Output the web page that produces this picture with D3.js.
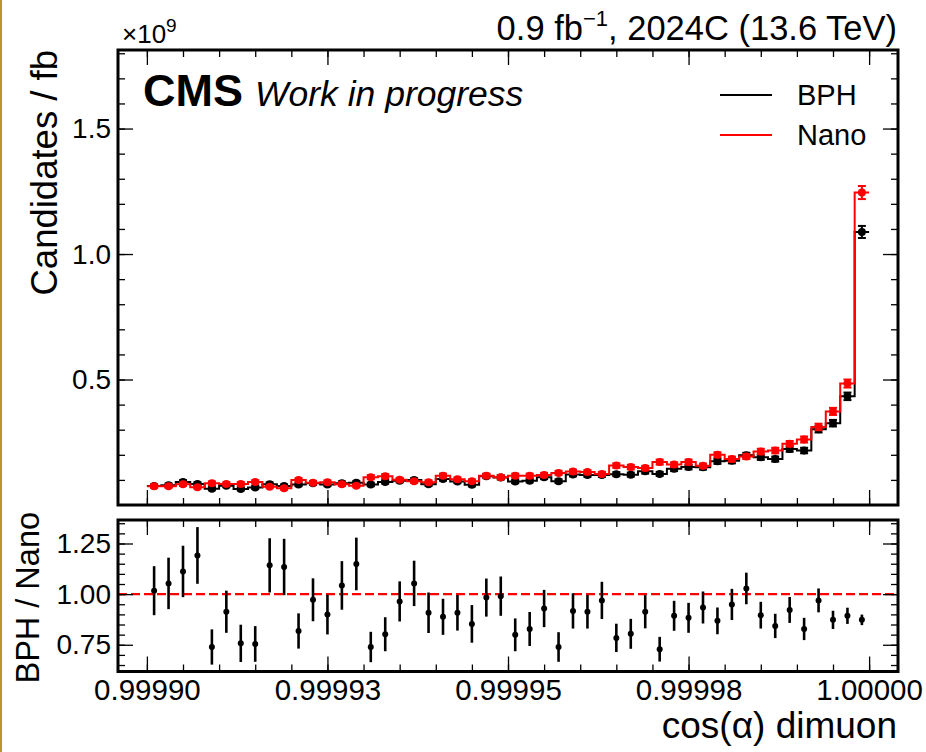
<!DOCTYPE html>
<html>
<head>
<meta charset="utf-8">
<script src="https://cdn.jsdelivr.net/npm/d3@7"></script>
<style>
  body { margin: 0; background: #fff; }
  svg { display: block; font-family: "Liberation Sans", Arial, Helvetica, sans-serif; }
</style>
</head>
<body>
<div id="container"></div>
<script>
// histogram: 50 bins between 0.9999 and 1.0 (cos alpha)
var binLo = 0.9999, binHi = 1.0, nBins = 50;

// Candidates / fb  (x 1e9)
var nano = [0.075, 0.075, 0.083, 0.071, 0.087, 0.084, 0.084, 0.092, 0.073, 0.067,
            0.100, 0.089, 0.091, 0.083, 0.077, 0.111, 0.115, 0.101, 0.095, 0.091,
            0.117, 0.103, 0.095, 0.117, 0.111, 0.117, 0.117, 0.120, 0.128, 0.133,
            0.131, 0.124, 0.157, 0.151, 0.147, 0.171, 0.161, 0.171, 0.156, 0.200,
            0.183, 0.193, 0.213, 0.217, 0.244, 0.261, 0.311, 0.373, 0.484, 1.245];
var nanoErr = [0.006, 0.006, 0.007, 0.006, 0.007, 0.007, 0.007, 0.007, 0.006, 0.006,
               0.007, 0.007, 0.007, 0.007, 0.006, 0.008, 0.008, 0.007, 0.007, 0.007,
               0.008, 0.007, 0.007, 0.008, 0.008, 0.008, 0.008, 0.008, 0.008, 0.008,
               0.008, 0.008, 0.009, 0.009, 0.009, 0.010, 0.009, 0.010, 0.009, 0.010,
               0.010, 0.010, 0.011, 0.011, 0.011, 0.012, 0.013, 0.014, 0.016, 0.026];
var bph = [0.076, 0.079, 0.092, 0.084, 0.065, 0.077, 0.064, 0.070, 0.083, 0.076,
           0.082, 0.087, 0.082, 0.087, 0.089, 0.082, 0.092, 0.097, 0.100, 0.083,
           0.104, 0.094, 0.081, 0.115, 0.110, 0.094, 0.097, 0.111, 0.095, 0.122,
           0.120, 0.120, 0.123, 0.121, 0.134, 0.124, 0.144, 0.151, 0.150, 0.174,
           0.176, 0.198, 0.190, 0.183, 0.223, 0.217, 0.302, 0.326, 0.433, 1.088];
var bphErr = [0.006, 0.007, 0.007, 0.007, 0.006, 0.006, 0.006, 0.006, 0.007, 0.006,
              0.007, 0.007, 0.007, 0.007, 0.007, 0.007, 0.007, 0.007, 0.007, 0.007,
              0.007, 0.007, 0.007, 0.008, 0.008, 0.007, 0.007, 0.008, 0.007, 0.008,
              0.008, 0.008, 0.008, 0.008, 0.009, 0.008, 0.009, 0.009, 0.009, 0.010,
              0.010, 0.010, 0.010, 0.010, 0.011, 0.011, 0.013, 0.013, 0.015, 0.024];

// BPH / Nano
var ratio = [1.017, 1.053, 1.112, 1.191, 0.739, 0.913, 0.757, 0.754, 1.142, 1.134,
             0.818, 0.972, 0.899, 1.043, 1.149, 0.739, 0.802, 0.964, 1.053, 0.908,
             0.888, 0.908, 0.853, 0.983, 0.990, 0.799, 0.828, 0.929, 0.739, 0.917,
             0.913, 0.969, 0.784, 0.804, 0.913, 0.728, 0.893, 0.883, 0.934, 0.868,
             0.949, 1.028, 0.896, 0.843, 0.922, 0.828, 0.969, 0.873, 0.893, 0.873];
var ratioErr = [0.121, 0.127, 0.127, 0.140, 0.087, 0.104, 0.092, 0.088, 0.134, 0.139,
                0.087, 0.106, 0.098, 0.120, 0.130, 0.075, 0.084, 0.099, 0.112, 0.100,
                0.089, 0.088, 0.093, 0.094, 0.097, 0.081, 0.084, 0.092, 0.073, 0.087,
                0.083, 0.092, 0.070, 0.074, 0.082, 0.061, 0.074, 0.074, 0.079, 0.066,
                0.077, 0.078, 0.066, 0.060, 0.064, 0.055, 0.059, 0.045, 0.040, 0.026];

// ticks
var xMajor = [0.9999, 0.999925, 0.99995, 0.999975, 1.0];
var xLabels = ["0.99990", "0.99993", "0.99995", "0.99998", "1.00000"];
var yMajor = [0.5, 1.0, 1.5];
var yLabels = ["0.5", "1.0", "1.5"];
var rMajor = [0.75, 1.0, 1.25];
var rLabels = ["0.75", "1.00", "1.25"];

var W = 926, H = 752;
var left = 118, right = 898;
var top1 = 50, bot1 = 505;
var top2 = 520, bot2 = 671.5;

var binW = (binHi - binLo) / nBins;
var edges = d3.range(nBins + 1).map(function (i) { return binLo + i * binW; });
var centers = d3.range(nBins).map(function (i) { return binLo + (i + 0.5) * binW; });

var x = d3.scaleLinear().domain([0.999896, 1.000004]).range([left, right]);
var y = d3.scaleLinear().domain([0, 1.813]).range([bot1, top1]);
var yr = d3.scaleLinear().domain([0.618, 1.366]).range([bot2, top2]);

var xMinor = d3.range(0.999895, 1.000005, 0.000005).filter(function (v) {
    return v > 0.999896 && v < 1.000004; });
var yMinor = d3.range(0.1, 1.81, 0.1);
var rMinor = d3.range(0.65, 1.37, 0.05);

var svg = d3.select("#container").append("svg")
    .attr("width", W).attr("height", H);

svg.append("rect").attr("width", W).attr("height", H).attr("fill", "#fff");
svg.append("rect").attr("x", 0).attr("y", 0).attr("width", 2).attr("height", H)
    .attr("fill", "#b8962e");

function styleAxis(g, size) {
    g.select(".domain").remove();
    g.selectAll("line").attr("stroke", "#000").attr("stroke-width", 1.3);
    g.selectAll("text").attr("font-size", size).attr("fill", "#000")
        .attr("font-family", "Liberation Sans, Arial, sans-serif");
}

// draw inward ticks on all four sides of a panel
function frameTicks(yScale, yT, yM, yL, t, b, showX) {
    var lab = function (arr, labs) { return function (d) { var i = arr.indexOf(d); return i >= 0 ? labs[i] : ""; }; };
    // minor
    svg.append("g").attr("transform", "translate(0," + b + ")")
        .call(d3.axisBottom(x).tickValues(xMinor).tickSize(-7).tickFormat(""))
        .call(styleAxis, 0);
    svg.append("g").attr("transform", "translate(0," + t + ")")
        .call(d3.axisTop(x).tickValues(xMinor).tickSize(-7).tickFormat(""))
        .call(styleAxis, 0);
    svg.append("g").attr("transform", "translate(" + left + ",0)")
        .call(d3.axisLeft(yScale).tickValues(yM).tickSize(-7).tickFormat(""))
        .call(styleAxis, 0);
    svg.append("g").attr("transform", "translate(" + right + ",0)")
        .call(d3.axisRight(yScale).tickValues(yM).tickSize(-7).tickFormat(""))
        .call(styleAxis, 0);
    // major
    svg.append("g").attr("transform", "translate(0," + b + ")")
        .call(d3.axisBottom(x).tickValues(xMajor).tickSize(-15).tickPadding(8)
            .tickFormat(showX ? lab(xMajor, xLabels) : ""))
        .call(styleAxis, 29.5);
    svg.append("g").attr("transform", "translate(0," + t + ")")
        .call(d3.axisTop(x).tickValues(xMajor).tickSize(-15).tickFormat(""))
        .call(styleAxis, 0);
    svg.append("g").attr("transform", "translate(" + left + ",0)")
        .call(d3.axisLeft(yScale).tickValues(yT).tickSize(-15).tickPadding(7)
            .tickFormat(lab(yT, yL)))
        .call(styleAxis, 28);
    svg.append("g").attr("transform", "translate(" + right + ",0)")
        .call(d3.axisRight(yScale).tickValues(yT).tickSize(-15).tickFormat(""))
        .call(styleAxis, 0);
}

// ---------- top panel ----------
function stepLine(vals) {
    var pts = edges.map(function (e, i) { return [e, vals[Math.min(i, nBins - 1)]]; });
    return d3.line().curve(d3.curveStepAfter)
        .x(function (d) { return x(d[0]); })
        .y(function (d) { return y(d[1]); })(pts);
}

function drawSeries(vals, errs, color) {
    svg.append("path").attr("d", stepLine(vals))
        .attr("fill", "none").attr("stroke", color).attr("stroke-width", 2);
    var g = svg.append("g");
    g.selectAll("line.eb").data(vals).enter().append("line")
        .attr("x1", function (d, i) { return x(centers[i]); })
        .attr("x2", function (d, i) { return x(centers[i]); })
        .attr("y1", function (d, i) { return y(d - errs[i]); })
        .attr("y2", function (d, i) { return y(d + errs[i]); })
        .attr("stroke", color).attr("stroke-width", 2);
    [1, -1].forEach(function (s) {
        g.selectAll("line.cap" + s).data(vals).enter().append("line")
            .attr("x1", function (d, i) { return x(centers[i]) - 4; })
            .attr("x2", function (d, i) { return x(centers[i]) + 4; })
            .attr("y1", function (d, i) { return y(d + s * errs[i]); })
            .attr("y2", function (d, i) { return y(d + s * errs[i]); })
            .attr("stroke", color).attr("stroke-width", 2);
    });
    g.selectAll("circle").data(vals).enter().append("circle")
        .attr("cx", function (d, i) { return x(centers[i]); })
        .attr("cy", function (d) { return y(d); })
        .attr("r", 4).attr("fill", color);
}

drawSeries(bph, bphErr, "#000");
drawSeries(nano, nanoErr, "#ff0000");

frameTicks(y, yMajor, yMinor, yLabels, top1, bot1, false);
svg.append("rect").attr("x", left).attr("y", top1)
    .attr("width", right - left).attr("height", bot1 - top1)
    .attr("fill", "none").attr("stroke", "#000").attr("stroke-width", 3);

// ---------- ratio panel ----------
svg.append("line")
    .attr("x1", left).attr("x2", right)
    .attr("y1", yr(1)).attr("y2", yr(1))
    .attr("stroke", "#ff0000").attr("stroke-width", 2.2)
    .attr("stroke-dasharray", "9,4");

var rg = svg.append("g");
rg.selectAll("line").data(ratio).enter().append("line")
    .attr("x1", function (d, i) { return x(centers[i]); })
    .attr("x2", function (d, i) { return x(centers[i]); })
    .attr("y1", function (d, i) { return yr(d - ratioErr[i]); })
    .attr("y2", function (d, i) { return yr(d + ratioErr[i]); })
    .attr("stroke", "#000").attr("stroke-width", 2.6);
rg.selectAll("circle").data(ratio).enter().append("circle")
    .attr("cx", function (d, i) { return x(centers[i]); })
    .attr("cy", function (d) { return yr(d); })
    .attr("r", 3).attr("fill", "#000");

frameTicks(yr, rMajor, rMinor, rLabels, top2, bot2, true);
svg.append("rect").attr("x", left).attr("y", top2)
    .attr("width", right - left).attr("height", bot2 - top2)
    .attr("fill", "none").attr("stroke", "#000").attr("stroke-width", 3);

// ---------- texts ----------
var title = svg.append("text").attr("x", 897).attr("y", 40)
    .attr("text-anchor", "end").attr("font-size", 34.5);
title.append("tspan").text("0.9 fb");
title.append("tspan").attr("font-size", 22).attr("dy", -14).text("\u22121");
title.append("tspan").attr("dy", 14).text(", 2024C (13.6 TeV)");

var expo = svg.append("text").attr("x", 122).attr("y", 43).attr("font-size", 26);
expo.append("tspan").text("\u00d710");
expo.append("tspan").attr("font-size", 19).attr("dy", -11).text("9");

svg.append("text").attr("x", 143).attr("y", 106)
    .attr("font-size", 45).attr("font-weight", "bold").text("CMS");
svg.append("text").attr("x", 255).attr("y", 106)
    .attr("font-size", 35.5).attr("font-style", "italic").text("Work in progress");

var legend = [["BPH", "#000"], ["Nano", "#ff0000"]];
legend.forEach(function (l, i) {
    var ly = 95 + i * 40;
    svg.append("line").attr("x1", 720).attr("x2", 772).attr("y1", ly).attr("y2", ly)
        .attr("stroke", l[1]).attr("stroke-width", 2);
    svg.append("text").attr("x", 797).attr("y", ly + 10).attr("font-size", 29).text(l[0]);
});

svg.append("text").attr("transform", "translate(57," + top1 + ") rotate(-90)")
    .attr("text-anchor", "end").attr("font-size", 36.5).text("Candidates / fb");
svg.append("text").attr("transform", "translate(39," + ((top2 + bot2) / 2 + 2) + ") rotate(-90)")
    .attr("text-anchor", "middle").attr("font-size", 32.5).text("BPH / Nano");
svg.append("text").attr("x", 897).attr("y", 738)
    .attr("text-anchor", "end").attr("font-size", 37).text("cos(\u03b1) dimuon");
</script>
</body>
</html>
